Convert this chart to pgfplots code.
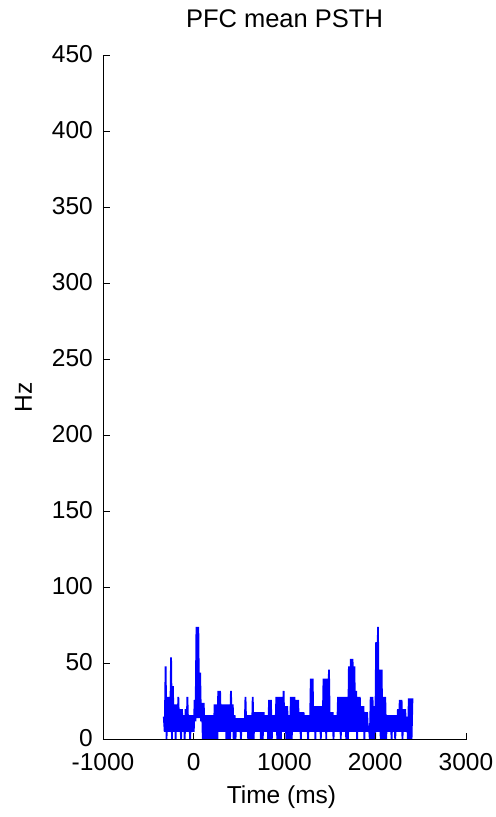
\documentclass[border=0pt]{standalone}
\usepackage{fontspec}
\setmainfont{Liberation Sans}
\usepackage{pgfplots}
\pgfplotsset{compat=1.18}
\begin{document}
\begin{tikzpicture}
\useasboundingbox[fill=white] (-103bp,-77.5bp) rectangle (393bp,739.5bp);
\begin{axis}[
  scale only axis,
  width=363bp, height=684.5bp,
  xmin=-1000, xmax=3000, ymin=0, ymax=450,
  axis lines*=left,
  axis line style={black, line width=0.9bp},
  axis on top,
  tick align=inside,
  major tick length=7bp,
  tick style={black, line width=0.9bp},
  xtick={-1000,0,1000,2000,3000},
  xticklabels={\mbox{-1000},0,1000,2000,3000},
  ytick={0,50,100,150,200,250,300,350,400,450},
  yticklabels={0,50,100,150,200,250,300,350,400,450},
  font=\fontsize{24.5bp}{29bp}\selectfont,
  xticklabel style={anchor=base, inner sep=0pt, yshift=-31bp},
  yticklabel style={anchor=east, inner sep=0pt, xshift=-10bp, yshift=1bp},
  title={PFC mean PSTH},
  title style={at={(0.5,1)}, anchor=base, inner sep=0pt, yshift=22bp, font=\fontsize{25.5bp}{30bp}\selectfont},
  xlabel={Time (ms)},
  xlabel style={at={(0.5,0)}, anchor=base, inner sep=0pt, yshift=-63.5bp, xshift=-3bp},
  ylabel={Hz},
  ylabel style={at={(0,0.5)}, anchor=base, inner sep=0pt, yshift=71bp},
]
\addplot[blue, line width=1.8bp, line join=miter, miter limit=2, mark=none] coordinates {
(-330,15) (-320,5) (-310,48) (-300,0) (-290,28) (-280,5) (-270,28) (-260,5) (-250,54) (-240,0) (-230,35) (-220,5) (-210,23) (-200,0) (-190,23) (-180,5) (-170,28) (-160,5) (-150,20) (-140,0) (-130,20) (-120,5) (-110,16) (-100,0) (-90,20) (-80,5) (-70,28) (-60,5) (-50,16) (-40,0) (-30,16) (-20,5) (-10,16) (0,5) (10,26) (20,12) (30,74) (40,14) (50,74) (60,14) (70,44) (80,12) (90,24) (100,0) (110,24) (120,0) (130,16) (140,0) (150,16) (160,0) (170,16) (180,0) (190,16) (200,0) (210,16) (220,0) (230,23) (240,0) (250,23) (260,0) (270,32) (280,5) (290,32) (300,5) (310,23) (320,5) (330,23) (340,5) (350,23) (360,0) (370,23) (380,0) (390,23) (400,0) (410,32) (420,5) (430,23) (440,0) (450,16) (460,0) (470,14) (480,5) (490,14) (500,5) (510,14) (520,0) (530,14) (540,5) (550,14) (560,5) (570,28) (580,5) (590,16) (600,0) (610,16) (620,0) (630,16) (640,0) (650,28) (660,0) (670,18) (680,5) (690,18) (700,5) (710,18) (720,5) (730,18) (740,0) (750,18) (760,0) (770,18) (780,5) (790,16) (800,5) (810,16) (820,0) (830,26) (840,0) (850,26) (860,0) (870,16) (880,5) (890,16) (900,5) (910,28) (920,0) (930,28) (940,0) (950,28) (960,0) (970,28) (980,5) (990,32) (1000,5) (1010,22) (1020,0) (1030,22) (1040,0) (1050,16) (1060,0) (1070,28) (1080,0) (1090,28) (1100,5) (1110,28) (1120,5) (1130,26) (1140,5) (1150,26) (1160,5) (1170,18) (1180,0) (1190,18) (1200,5) (1210,18) (1220,5) (1230,16) (1240,5) (1250,16) (1260,0) (1270,16) (1280,5) (1290,40) (1300,5) (1310,40) (1320,5) (1330,22) (1340,0) (1350,22) (1360,5) (1370,22) (1380,5) (1390,22) (1400,0) (1410,22) (1420,5) (1430,40) (1440,5) (1450,40) (1460,0) (1470,40) (1480,5) (1490,46) (1500,5) (1510,18) (1520,5) (1530,18) (1540,0) (1550,16) (1560,5) (1570,16) (1580,5) (1590,28) (1600,5) (1610,28) (1620,0) (1630,28) (1640,5) (1650,28) (1660,5) (1670,28) (1680,0) (1690,28) (1700,0) (1710,48) (1720,5) (1730,53) (1740,5) (1750,53) (1760,5) (1770,48) (1780,5) (1790,32) (1800,0) (1810,28) (1820,5) (1830,28) (1840,5) (1850,22) (1860,5) (1870,22) (1880,0) (1890,18) (1900,5) (1910,18) (1920,5) (1930,9) (1940,0) (1950,28) (1960,0) (1970,28) (1980,0) (1990,22) (2000,0) (2010,64) (2020,5) (2030,74) (2040,5) (2050,46) (2060,0) (2070,46) (2080,0) (2090,28) (2100,0) (2110,28) (2120,0) (2130,16) (2140,5) (2150,16) (2160,5) (2170,16) (2180,0) (2190,16) (2200,5) (2210,16) (2220,0) (2230,16) (2240,5) (2250,20) (2260,5) (2270,26) (2280,5) (2290,26) (2300,0) (2310,20) (2320,5) (2330,20) (2340,5) (2350,15) (2360,0) (2370,27) (2380,0) (2390,27) (2400,0) (2410,27)
};
\end{axis}
\end{tikzpicture}
\end{document}
